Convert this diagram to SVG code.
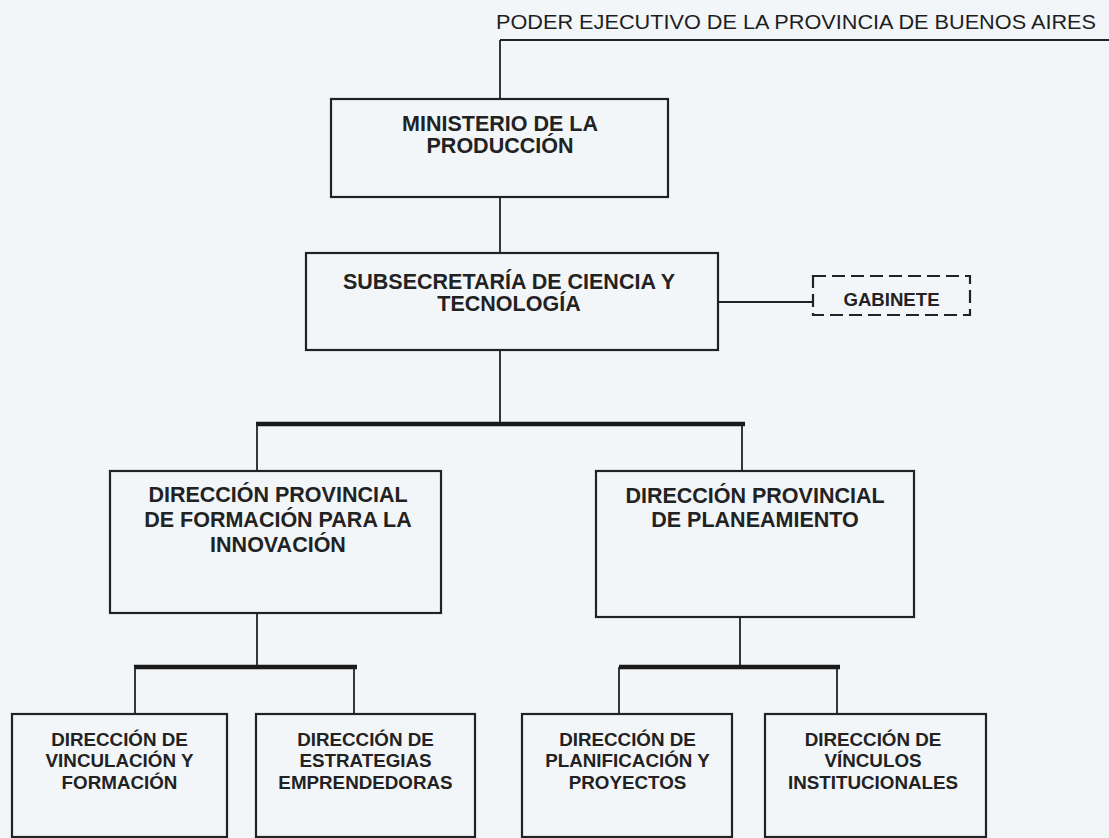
<svg xmlns="http://www.w3.org/2000/svg" width="1109" height="838" viewBox="0 0 1109 838">
<style>
.bg{fill:#f3f6f9}
.box{fill:none;stroke:#222;stroke-width:2.2}
.dash{fill:none;stroke:#222;stroke-width:2.2;stroke-dasharray:13 6}
.ln{fill:none;stroke:#222;stroke-width:1.8}
.bar{fill:none;stroke:#1a1a1a;stroke-width:4.5}
.t{font-family:"Liberation Sans",Arial,sans-serif;font-weight:bold;fill:#222;text-anchor:middle}
.t21{font-size:21.5px}
.t19{font-size:18.8px}
.title{font-family:"Liberation Sans",Arial,sans-serif;font-size:19.5px;fill:#1e1e1e}
</style>
<rect class="bg" x="0" y="0" width="1109" height="838"/>
<g id="connectors">
<line class="ln" x1="500" y1="40" x2="1109" y2="40"/>
<line class="ln" x1="500" y1="40" x2="500" y2="99"/>
<line class="ln" x1="500" y1="197" x2="500" y2="253"/>
<line class="ln" x1="718" y1="302" x2="813" y2="302"/>
<line class="ln" x1="500" y1="350" x2="500" y2="424"/>
<line class="bar" x1="256" y1="424" x2="745" y2="424"/>
<line class="ln" x1="257" y1="424" x2="257" y2="471"/>
<line class="ln" x1="742" y1="424" x2="742" y2="471"/>
<line class="ln" x1="257" y1="613" x2="257" y2="667"/>
<line class="ln" x1="740" y1="617" x2="740" y2="667"/>
<line class="bar" x1="134" y1="667" x2="357" y2="667"/>
<line class="bar" x1="619" y1="667" x2="840" y2="667"/>
<line class="ln" x1="135" y1="667" x2="135" y2="714"/>
<line class="ln" x1="354" y1="667" x2="354" y2="714"/>
<line class="ln" x1="619" y1="667" x2="619" y2="714"/>
<line class="ln" x1="837" y1="667" x2="837" y2="714"/>
</g>
<g id="poder">
<text class="title" x="496" y="29" textLength="600" lengthAdjust="spacingAndGlyphs">PODER EJECUTIVO DE LA PROVINCIA DE BUENOS AIRES</text>
</g>
<g id="ministerio">
<rect class="box" x="331" y="99" width="337" height="98"/>
<text class="t t21" x="500" y="131">MINISTERIO DE LA</text>
<text class="t t21" x="500" y="153">PRODUCCIÓN</text>
</g>
<g id="subsecretaria">
<rect class="box" x="306" y="253" width="412" height="97"/>
<text class="t t21" x="509" y="288.5">SUBSECRETARÍA DE CIENCIA Y</text>
<text class="t t21" x="509" y="311">TECNOLOGÍA</text>
</g>
<g id="gabinete">
<rect class="dash" x="813" y="276" width="157" height="39"/>
<text class="t" style="font-size:18.6px" x="891.5" y="306">GABINETE</text>
</g>
<g id="dp-formacion">
<rect class="box" x="110" y="471" width="331" height="142"/>
<text class="t t21" x="278" y="502">DIRECCIÓN PROVINCIAL</text>
<text class="t t21" x="278" y="527">DE FORMACIÓN PARA LA</text>
<text class="t t21" x="278" y="552">INNOVACIÓN</text>
</g>
<g id="dp-planeamiento">
<rect class="box" x="596" y="471" width="318" height="146"/>
<text class="t t21" x="755" y="503">DIRECCIÓN PROVINCIAL</text>
<text class="t t21" x="755" y="527">DE PLANEAMIENTO</text>
</g>
<g id="d-vinculacion">
<rect class="box" x="12" y="714" width="215" height="123"/>
<text class="t t19" x="119.5" y="745.5">DIRECCIÓN DE</text>
<text class="t t19" x="119.5" y="767">VINCULACIÓN Y</text>
<text class="t t19" x="119.5" y="788.5">FORMACIÓN</text>
</g>
<g id="d-estrategias">
<rect class="box" x="256" y="714" width="219" height="123"/>
<text class="t t19" x="365.5" y="745.5">DIRECCIÓN DE</text>
<text class="t t19" x="365.5" y="767">ESTRATEGIAS</text>
<text class="t t19" x="365.5" y="788.5">EMPRENDEDORAS</text>
</g>
<g id="d-planificacion">
<rect class="box" x="522" y="714" width="210" height="123"/>
<text class="t t19" x="627.5" y="745.5">DIRECCIÓN DE</text>
<text class="t t19" x="627.5" y="767">PLANIFICACIÓN Y</text>
<text class="t t19" x="627.5" y="788.5">PROYECTOS</text>
</g>
<g id="d-vinculos">
<rect class="box" x="765" y="714" width="221" height="123"/>
<text class="t t19" x="873" y="745.5">DIRECCIÓN DE</text>
<text class="t t19" x="873" y="767">VÍNCULOS</text>
<text class="t t19" x="873" y="788.5">INSTITUCIONALES</text>
</g>
</svg>
